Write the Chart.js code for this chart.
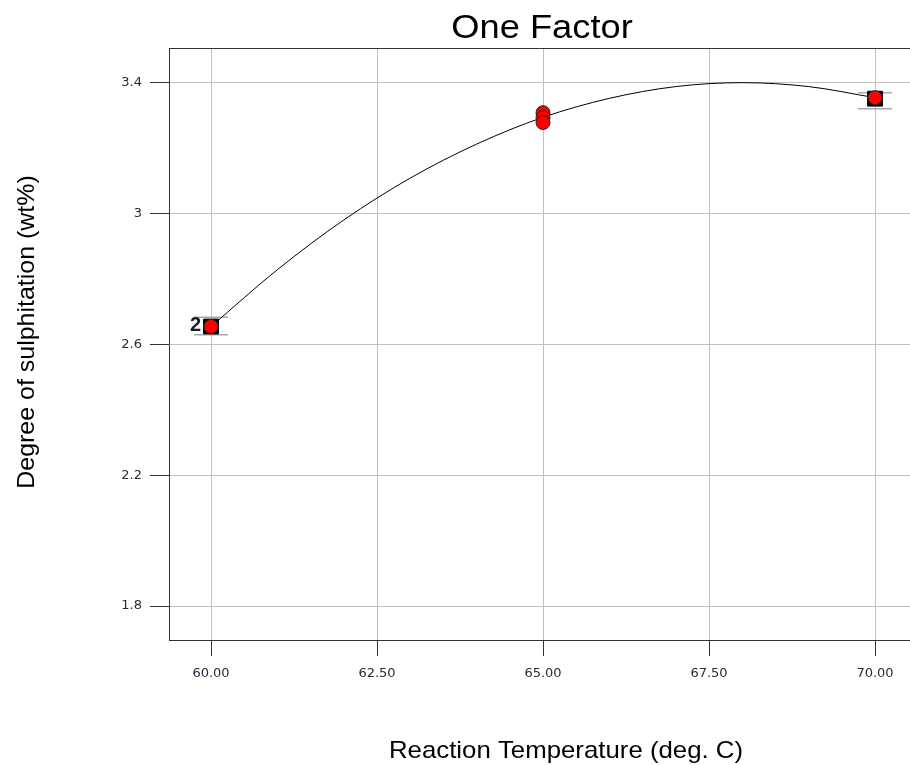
<!DOCTYPE html>
<html><head><meta charset="utf-8">
<script src="https://cdn.jsdelivr.net/npm/chart.js@4"></script>
<style>html,body{margin:0;padding:0;background:#fff}#wrap{width:910px;height:765px}</style>
</head><body><div id="wrap"><canvas id="c" width="910" height="765"></canvas></div>
<script>
const titleText = "One Factor";
const xTitle = "Reaction Temperature (deg. C)";
const yTitle = "Degree of sulphitation (wt%)";
const xTicks = [60, 62.5, 65, 67.5, 70];
const yTicks = [1.8, 2.2, 2.6, 3.0, 3.4];
// model curve
const curveX = [60, 61, 62, 63, 64, 65, 66, 67, 68, 69, 70];
const curveY = [2.655, 2.829, 2.981, 3.109, 3.213, 3.295, 3.353, 3.389, 3.401, 3.389, 3.355];
// actual design points
const actualX = [60, 60, 65, 65, 65, 70];
const actualY = [2.655, 2.655, 3.309, 3.294, 3.279, 3.355];
// predicted means and interval bounds
const meanX = [60, 70];
const meanY = [2.655, 3.352];
const ciLow = [2.630, 3.321];
const ciHigh = [2.683, 3.370];
const repLabel = {x: 60, y: 2.655, text: "2"};

const toPts = (xs, ys) => xs.map((x, i) => ({x: x, y: ys[i]}));
const FONT = '"Liberation Sans", Arial, sans-serif';

function stretchText(ctx, text, x, y, sx) {
  ctx.save();
  ctx.translate(x, y);
  ctx.scale(sx, 1);
  ctx.fillText(text, 0, 0);
  ctx.restore();
}

const deco = {
  id: 'deco',
  afterDraw(chart) {
    const ctx = chart.ctx, a = chart.chartArea;
    const xs = chart.scales.x, ys = chart.scales.y;
    ctx.save();
    ctx.strokeStyle = '#333'; ctx.lineWidth = 1;
    ctx.beginPath(); ctx.moveTo(a.left, a.top + 0.5); ctx.lineTo(a.right, a.top + 0.5); ctx.stroke();
    ctx.fillStyle = '#000';
    ctx.textAlign = 'center'; ctx.textBaseline = 'middle';
    ctx.font = '33px ' + FONT;
    stretchText(ctx, titleText, 542, 29, 1.10);
    ctx.font = '24px ' + FONT;
    stretchText(ctx, xTitle, 566, 751, 1.075);
    ctx.save();
    ctx.translate(27, 332); ctx.rotate(-Math.PI / 2);
    stretchText(ctx, yTitle, 0, 0, 1.04);
    ctx.restore();
    ctx.restore();
    ctx.save();
    ctx.fillStyle = '#1a1a2a';
    ctx.font = 'bold 20px ' + FONT;
    ctx.textAlign = 'right'; ctx.textBaseline = 'middle';
    ctx.fillText(repLabel.text, xs.getPixelForValue(repLabel.x) - 10, ys.getPixelForValue(repLabel.y) - 1);
    ctx.restore();
  }
};

const tickFont = {family: '"DejaVu Sans", Verdana, sans-serif', size: 13};

new Chart(document.getElementById('c'), {
  type: 'scatter',
  data: {
    datasets: [
      {label: 'lo', data: toPts(meanX, ciLow), pointStyle: 'line', pointRadius: 17, borderColor: '#a8a8a8', borderWidth: 1.5, backgroundColor: '#a8a8a8', order: 5},
      {label: 'hi', data: toPts(meanX, ciHigh), pointStyle: 'line', pointRadius: 17, borderColor: '#a8a8a8', borderWidth: 1.5, backgroundColor: '#a8a8a8', order: 5},
      {label: 'model', type: 'line', data: toPts(curveX, curveY), borderColor: '#000', borderWidth: 1, pointRadius: 0, tension: 0.4, cubicInterpolationMode: 'monotone', fill: false, order: 4},
      {label: 'mean', data: toPts(meanX, meanY), pointStyle: 'rect', pointRadius: 10.5, backgroundColor: '#000', borderColor: '#000', borderWidth: 1, order: 3},
      {label: 'actual', data: toPts(actualX, actualY), pointStyle: 'circle', pointRadius: 7, backgroundColor: '#ff0000', borderColor: '#222', borderWidth: 1, order: 1}
    ]
  },
  options: {
    responsive: false, animation: false, devicePixelRatio: 1,
    layout: {autoPadding: false, padding: {top: 48, left: 0, right: 0, bottom: 0}},
    plugins: {legend: {display: false}, tooltip: {enabled: false}, title: {display: false}},
    scales: {
      x: {
        type: 'linear', min: 59.367, max: 70.527,
        afterFit(s) { s.height = 125; s.paddingLeft = 0; s.paddingRight = 0; },
        afterBuildTicks(s) { s.ticks = xTicks.map(v => ({value: v})); },
        grid: {color: '#c0c0c0', tickColor: '#333', tickLength: 16, lineWidth: 1},
        border: {color: '#333', width: 1},
        ticks: {padding: 10, color: '#2a2a3a', font: tickFont, callback: v => Number(v).toFixed(2), maxRotation: 0, autoSkip: false}
      },
      y: {
        type: 'linear', min: 1.696, max: 3.507,
        afterFit(s) { s.width = 169; s.paddingTop = 0; s.paddingBottom = 0; },
        afterBuildTicks(s) { s.ticks = yTicks.map(v => ({value: v})); },
        grid: {color: '#c0c0c0', tickColor: '#333', tickLength: 19, lineWidth: 1},
        border: {color: '#333', width: 1},
        ticks: {padding: 8, color: '#2a2a3a', font: tickFont, callback: v => String(Math.round(v * 10) / 10), autoSkip: false}
      }
    }
  },
  plugins: [deco]
});
</script></body></html>
